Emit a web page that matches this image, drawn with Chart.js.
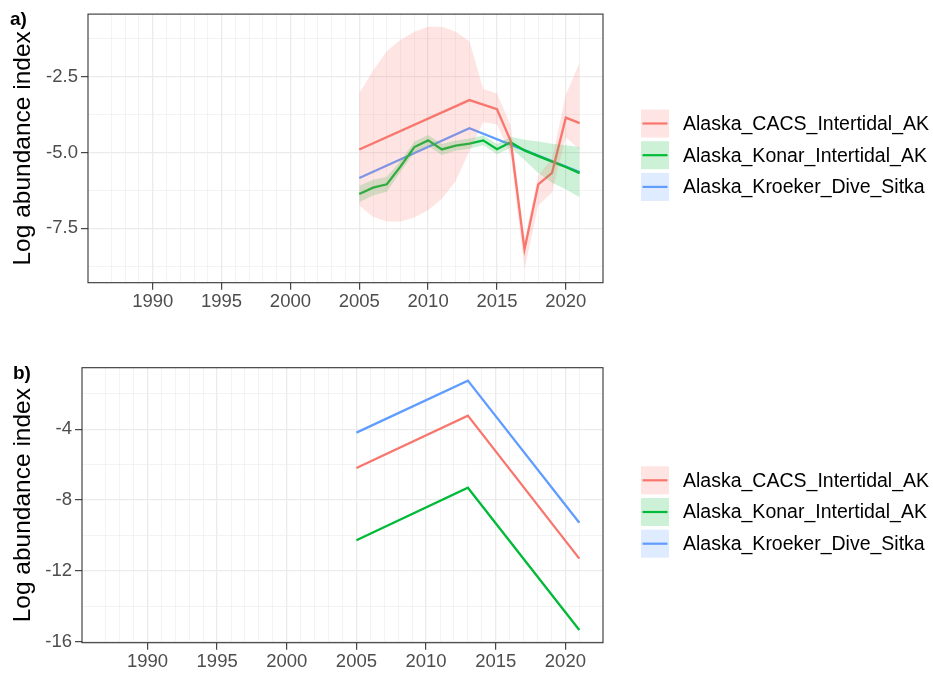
<!DOCTYPE html>
<html>
<head>
<meta charset="utf-8">
<script src="https://cdn.jsdelivr.net/npm/chart.js@4.4.1/dist/chart.umd.min.js"></script>
<style>
  body { margin: 0; background: #fff; }
  #wrap { position: relative; width: 933px; height: 676px; }
  canvas { position: absolute; left: 0; }
</style>
</head>
<body>
<div id="wrap">
  <canvas id="panelA" width="933" height="338" style="top:0"></canvas>
  <canvas id="panelB" width="933" height="338" style="top:338px"></canvas>
</div>
<script>
const FONT = '"Liberation Sans", Arial, sans-serif';
const RED = '#F8766D', GREEN = '#00BA38', BLUE = '#619CFF';
const RED_FILL = 'rgba(248,118,109,0.2)', GREEN_FILL = 'rgba(0,186,56,0.2)', BLUE_FILL = 'rgba(97,156,255,0.2)';

const seriesNames = ["Alaska_CACS_Intertidal_AK", "Alaska_Konar_Intertidal_AK", "Alaska_Kroeker_Dive_Sitka"];

// x grid: one line per year, labels every 5
const gridYears = [];
for (let y = 1987; y <= 2021; y++) gridYears.push(y);

// ---- panel a) ----
const ribbonYears = [2005, 2006, 2007, 2008, 2009, 2010, 2011, 2012, 2013, 2014, 2015, 2016, 2017, 2018, 2019, 2020, 2021];

const cacsYears = [2005, 2013, 2015, 2016, 2017, 2018, 2019, 2020, 2021];
const cacsIndex = [-4.9, -3.27, -3.57, -4.62, -8.2, -6.05, -5.67, -3.85, -4.03];
const cacsUpper = [-3.05, -2.3, -1.66, -1.28, -1.01, -0.85, -0.85, -1.01, -1.33, -2.9, -3.05, -4.1, -7.9, -5.75, -5.2, -3.1, -2.03];
const cacsLower = [-6.75, -7.12, -7.28, -7.28, -7.15, -6.91, -6.53, -5.94, -4.95, -4.0, -4.07, -5.1, -8.85, -6.75, -6.32, -4.5, -4.9];

const konarIndex = [-6.37, -6.16, -6.05, -5.46, -4.82, -4.6, -4.9, -4.77, -4.71, -4.6, -4.89, -4.66, -4.93, -5.12, -5.3, -5.48, -5.68];
const konarUpper = [-6.1, -5.9, -5.8, -5.28, -4.64, -4.42, -4.72, -4.6, -4.54, -4.44, -4.72, -4.48, -4.58, -4.64, -4.71, -4.76, -4.82];
const konarLower = [-6.64, -6.42, -6.3, -5.64, -5.0, -4.78, -5.08, -4.94, -4.88, -4.76, -5.06, -4.84, -5.25, -5.68, -6.0, -6.21, -6.48];

const kroekerYears = [2005, 2013, 2021];
const kroekerIndex = [-5.84, -4.2, -5.65];

const yTicksA = [-8.75, -7.5, -6.25, -5, -3.75, -2.5, -1.25];
const yLabelsA = [-7.5, -5, -2.5];

// ---- panel b) ----
const yearsB = [2005, 2013, 2021];
const cacsB = [-6.19, -3.23, -11.31];
const konarB = [-10.27, -7.3, -15.34];
const kroekerB = [-4.19, -1.25, -9.28];

const yTicksB = [-16, -14, -12, -10, -8, -6, -4, -2];
const yLabelsB = [-16, -12, -8, -4];

function toXY(xs, ys) {
  return xs.map((x, i) => ({ x: x, y: ys[i] }));
}

function lineSet(name, xs, ys, color) {
  return { label: name, data: toXY(xs, ys), borderColor: color, borderWidth: 2.3,
           pointRadius: 0, fill: false, order: 1 };
}

function ribbonSets(name, xs, lo, hi, fillColor) {
  return [
    { label: name + " upper", data: toXY(xs, hi), borderColor: 'rgba(0,0,0,0)', borderWidth: 0,
      pointRadius: 0, fill: false, order: 0 },
    { label: name + " lower", data: toXY(xs, lo), borderColor: 'rgba(0,0,0,0)', borderWidth: 0,
      pointRadius: 0, fill: '-1', backgroundColor: fillColor, order: 0 }
  ];
}

const legendItems = [
  { text: seriesNames[0], line: RED, fill: RED_FILL },
  { text: seriesNames[1], line: GREEN, fill: GREEN_FILL },
  { text: seriesNames[2], line: BLUE, fill: BLUE_FILL }
];

// border, tag and ggplot-like legend
const panelDeco = {
  id: 'panelDeco',
  afterDraw(chart, args, opts) {
    const ctx = chart.ctx;
    const a = chart.chartArea;
    ctx.save();
    ctx.strokeStyle = '#333333';
    ctx.lineWidth = 1.1;
    ctx.strokeRect(a.left, a.top, a.right - a.left, a.bottom - a.top);

    ctx.fillStyle = '#000';
    ctx.font = 'bold 19px ' + FONT;
    ctx.textBaseline = 'alphabetic';
    ctx.textAlign = 'left';
    ctx.fillText(opts.tag, opts.tagX, a.top + 11);

    const midY = (a.top + a.bottom) / 2 + 6.8;
    const boxX = a.right + 38;
    ctx.font = '19.5px ' + FONT;
    ctx.textBaseline = 'middle';
    legendItems.forEach((item, i) => {
      const cy = midY + (i - 1) * 31.7;
      ctx.fillStyle = item.fill;
      ctx.fillRect(boxX, cy - 14, 28, 28);
      ctx.strokeStyle = item.line;
      ctx.lineWidth = 2.2;
      ctx.beginPath();
      ctx.moveTo(boxX + 1.5, cy);
      ctx.lineTo(boxX + 26.5, cy);
      ctx.stroke();
      ctx.fillStyle = '#000';
      ctx.fillText(item.text, boxX + 42, cy + 1);
    });
    ctx.restore();
  }
};

function makePanel(canvasId, datasets, p) {
  const tickFont = { family: FONT, size: 18.5 };
  return new Chart(document.getElementById(canvasId), {
    type: 'line',
    data: { datasets: datasets },
    options: {
      responsive: false,
      animation: false,
      layout: { padding: { top: p.top, right: 330, bottom: 0, left: 0 } },
      plugins: {
        legend: { display: false },
        tooltip: { enabled: false },
        panelDeco: { tag: p.tag, tagX: p.tagX }
      },
      scales: {
        x: {
          type: 'linear',
          min: 1985.3,
          max: 2022.7,
          afterBuildTicks: s => { s.ticks = gridYears.map(v => ({ value: v })); },
          afterFit: s => { s.height = p.xHeight; },
          ticks: {
            autoSkip: false, maxRotation: 0, padding: 1, color: '#4D4D4D', font: tickFont,
            callback: v => (v % 5 === 0 ? String(v) : '')
          },
          grid: {
            color: '#EBEBEB',
            lineWidth: c => (c.tick && c.tick.value % 5 === 0 ? 1.3 : 0.6),
            tickLength: 7,
            tickWidth: 1.1,
            tickColor: c => (c.tick && c.tick.value % 5 === 0 ? '#333333' : 'rgba(0,0,0,0)')
          },
          border: { display: false }
        },
        y: {
          type: 'linear',
          min: p.yMin,
          max: p.yMax,
          afterBuildTicks: s => { s.ticks = p.yTicks.map(v => ({ value: v })); },
          afterFit: s => { s.width = p.yWidth; },
          ticks: {
            padding: 3, color: '#4D4D4D', font: tickFont,
            callback: v => (p.yLabels.includes(v) ? p.fmt(v) : '')
          },
          title: {
            display: true, text: 'Log abundance index', color: '#000',
            font: { family: FONT, size: 24.5 }, padding: { top: 9, bottom: 0 }
          },
          grid: {
            color: '#EBEBEB',
            lineWidth: c => (c.tick && p.yLabels.includes(c.tick.value) ? 1.3 : 0.6),
            tickLength: 7,
            tickWidth: 1.1,
            tickColor: c => (c.tick && p.yLabels.includes(c.tick.value) ? '#333333' : 'rgba(0,0,0,0)')
          },
          border: { display: false }
        }
      }
    },
    plugins: [panelDeco]
  });
}

const datasetsA = [
  lineSet(seriesNames[0], cacsYears, cacsIndex, RED),
  lineSet(seriesNames[1], ribbonYears, konarIndex, GREEN),
  lineSet(seriesNames[2], kroekerYears, kroekerIndex, BLUE),
  ...ribbonSets(seriesNames[0], ribbonYears, cacsLower, cacsUpper, RED_FILL),
  ...ribbonSets(seriesNames[1], ribbonYears, konarLower, konarUpper, GREEN_FILL)
];

const datasetsB = [
  lineSet(seriesNames[0], yearsB, cacsB, RED),
  lineSet(seriesNames[1], yearsB, konarB, GREEN),
  lineSet(seriesNames[2], yearsB, kroekerB, BLUE)
];

makePanel('panelA', datasetsA, {
  tag: 'a)', tagX: 10, top: 6.7, xHeight: 55.3, yWidth: 88,
  yMin: -9.3, yMax: -0.43, yTicks: yTicksA, yLabels: yLabelsA, fmt: v => v.toFixed(1)
});

makePanel('panelB', datasetsB, {
  tag: 'b)', tagX: 13, top: 29.7, xHeight: 33.3, yWidth: 82,
  yMin: -16.06, yMax: -0.52, yTicks: yTicksB, yLabels: yLabelsB, fmt: v => String(v)
});
</script>
</body>
</html>
